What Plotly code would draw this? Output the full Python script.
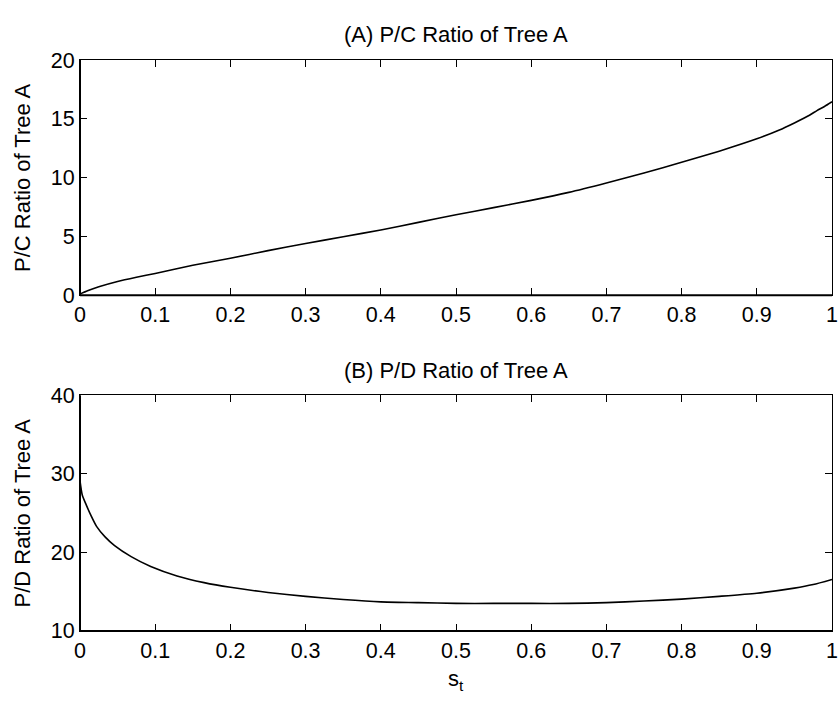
import plotly.graph_objects as go

# ---- data ----
s_top = [0, 0.01, 0.025, 0.05, 0.075, 0.1, 0.15, 0.2, 0.25, 0.3, 0.35, 0.4, 0.45,
         0.5, 0.55, 0.6, 0.65, 0.7, 0.75, 0.8, 0.85, 0.9, 0.93, 0.95, 0.97, 0.98, 0.99, 1.0]
pc_ratio = [0.1, 0.38, 0.72, 1.17, 1.53, 1.86, 2.55, 3.15, 3.8, 4.4, 4.98, 5.55, 6.2,
            6.85, 7.45, 8.07, 8.75, 9.55, 10.4, 11.3, 12.25, 13.3, 14.05, 14.65, 15.3, 15.7, 16.05, 16.45]

s_bot = [0, 0.003, 0.008, 0.015, 0.022, 0.033, 0.046, 0.068, 0.094, 0.129, 0.165, 0.2, 0.25,
         0.3, 0.35, 0.4, 0.45, 0.5, 0.55, 0.6, 0.65, 0.7, 0.75, 0.8, 0.85, 0.9, 0.95, 0.975, 1.0]
pd_ratio = [29.1, 27.3, 26.1, 24.6, 23.3, 22.0, 20.85, 19.45, 18.2, 17.0, 16.15, 15.55, 14.9,
            14.4, 14.0, 13.7, 13.6, 13.5, 13.5, 13.5, 13.5, 13.6, 13.8, 14.05, 14.4, 14.8, 15.45, 15.9, 16.55]

x_ticks = [0, 0.1, 0.2, 0.3, 0.4, 0.5, 0.6, 0.7, 0.8, 0.9, 1]
x_ticklabels = ["0", "0.1", "0.2", "0.3", "0.4", "0.5", "0.6", "0.7", "0.8", "0.9", "1"]
y_ticks_top = [0, 5, 10, 15, 20]
y_ticks_bot = [10, 20, 30, 40]

title_top = "(A) P/C Ratio of Tree A"
title_bot = "(B) P/D Ratio of Tree A"
ylabel_top = "P/C Ratio of Tree A"
ylabel_bot = "P/D Ratio of Tree A"
xlabel = "s<sub>t</sub>"

W, H = 838, 707
FONT = "Liberation Sans, Arial, Helvetica, sans-serif"
TICKFONT = dict(family=FONT, size=21.5, color="black")
LABFONT = dict(family=FONT, size=22, color="black")

top_dom = [1 - 294.3 / H, 1 - 50.7 / H]
bot_dom = [1 - 641.7 / H, 1 - 397.7 / H]

fig = go.Figure()
fig.add_trace(go.Scatter(x=s_top, y=pc_ratio, mode="lines",
                         line=dict(color="black", width=1.6, shape="spline", smoothing=0.6),
                         xaxis="x", yaxis="y", showlegend=False))
fig.add_trace(go.Scatter(x=s_bot, y=pd_ratio, mode="lines",
                         line=dict(color="black", width=1.6, shape="spline", smoothing=0.6),
                         xaxis="x2", yaxis="y2", showlegend=False))

xcommon = dict(range=[0, 1], tickvals=x_ticks, ticktext=x_ticklabels, ticks="inside", ticklen=7,
               tickwidth=1, tickcolor="black", showline=True, linecolor="black", linewidth=1,
               mirror="ticks", showgrid=False, zeroline=False, tickfont=TICKFONT,
               ticklabeloverflow="allow", domain=[0, 1])
ycommon = dict(ticks="inside", ticklen=7, tickwidth=1, tickcolor="black", showline=True,
               linecolor="black", linewidth=1, mirror="ticks", showgrid=False, zeroline=False,
               tickfont=TICKFONT, ticklabeloverflow="allow")

fig.update_layout(
    width=W, height=H,
    margin=dict(l=80, r=1, t=0, b=0),
    paper_bgcolor="white", plot_bgcolor="white",
    xaxis=dict(xcommon, anchor="y"),
    yaxis=dict(ycommon, range=[0, 20], tickvals=y_ticks_top, domain=top_dom, anchor="x"),
    xaxis2=dict(xcommon, anchor="y2"),
    yaxis2=dict(ycommon, range=[10, 40], tickvals=y_ticks_bot, domain=bot_dom, anchor="x2"),
)

# thicker left/bottom spines
for xr, yr in [("x", "y"), ("x2", "y2")]:
    fig.add_shape(type="line", xref=f"{xr} domain", yref=f"{yr} domain", x0=0, x1=0, y0=0, y1=1,
                  line=dict(color="black", width=2))
    fig.add_shape(type="line", xref=f"{xr} domain", yref=f"{yr} domain", x0=0, x1=1, y0=0, y1=0,
                  line=dict(color="black", width=2))

# titles
fig.add_annotation(text=title_top, xref="paper", yref="paper", x=0.5, y=1 - 24 / H,
                   showarrow=False, font=LABFONT, xanchor="center", yanchor="middle")
fig.add_annotation(text=title_bot, xref="paper", yref="paper", x=0.5, y=1 - 372 / H,
                   showarrow=False, font=LABFONT, xanchor="center", yanchor="middle")
# y labels
fig.add_annotation(text=ylabel_top, xref="paper", yref="paper", x=-58 / 757, y=1 - 172.5 / H,
                   showarrow=False, font=LABFONT, textangle=-90, xanchor="center", yanchor="middle")
fig.add_annotation(text=ylabel_bot, xref="paper", yref="paper", x=-58 / 757, y=1 - 519.7 / H,
                   showarrow=False, font=LABFONT, textangle=-90, xanchor="center", yanchor="middle")
# x label
fig.add_annotation(text=xlabel, xref="paper", yref="paper", x=0.5, y=1 - 693 / H,
                   showarrow=False, font=LABFONT, xanchor="center", yanchor="middle")

fig.write_html("out.html")
